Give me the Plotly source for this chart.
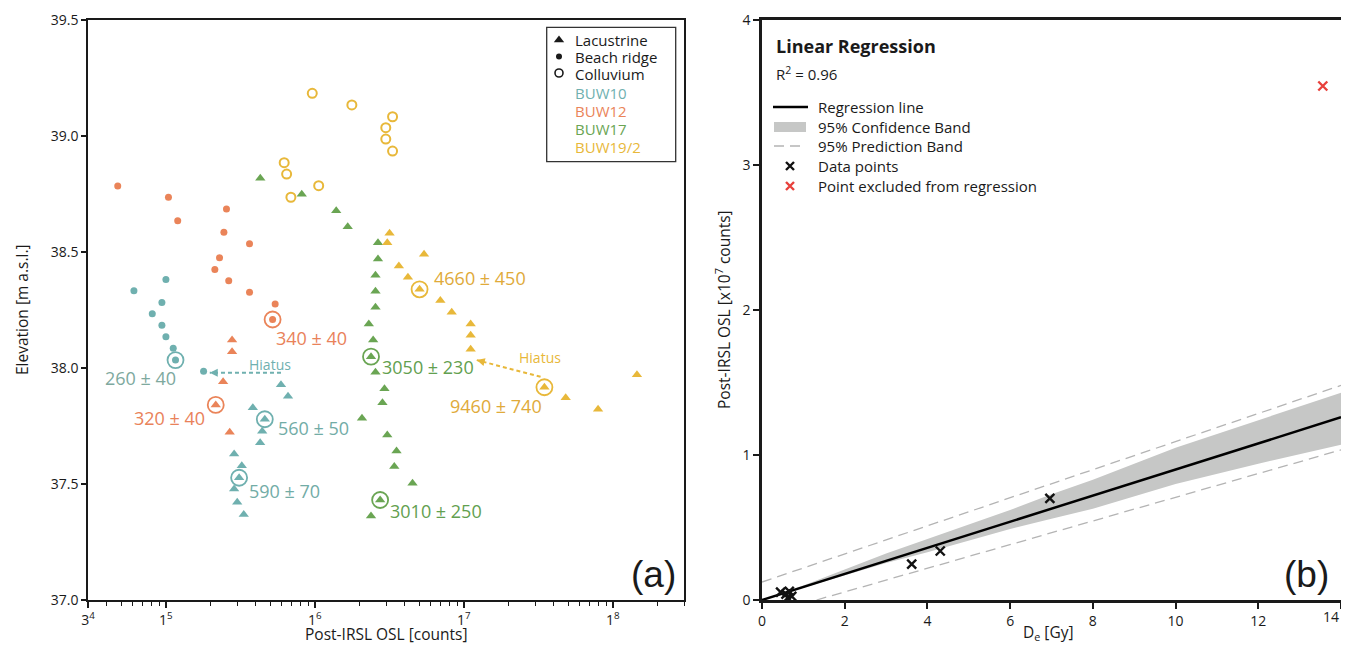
import numpy as np
import plotly.graph_objects as go

# page body has an 8px margin: the figure is drawn 8px in from the window corner
OFF = 8
W, H = 1349 - 2 * OFF, 652 - 2 * OFF

# ---------------- Panel (a) data ----------------
buw10_beach_x = [6.1e4, 1.0e5, 9.4e4, 8.1e4, 9.4e4, 1.0e5, 1.12e5, 1.16e5, 1.79e5]
buw10_beach_y = [38.333, 38.382, 38.282, 38.234, 38.184, 38.135, 38.085, 38.034, 37.986]
buw10_lac_x = [5.92e5, 6.6e5, 3.83e5, 4.61e5, 4.43e5, 4.29e5, 2.87e5, 3.23e5, 3.10e5, 2.87e5, 3.01e5, 3.33e5]
buw10_lac_y = [37.928, 37.878, 37.829, 37.779, 37.727, 37.678, 37.629, 37.579, 37.527, 37.478, 37.421, 37.369]
buw12_beach_x = [4.75e4, 1.04e5, 1.2e5, 2.55e5, 2.45e5, 3.64e5, 2.29e5, 2.13e5, 2.64e5, 3.64e5, 5.41e5, 5.2e5]
buw12_beach_y = [38.784, 38.736, 38.635, 38.685, 38.585, 38.536, 38.475, 38.425, 38.376, 38.326, 38.276, 38.209]
buw12_lac_x = [2.78e5, 2.78e5, 2.42e5, 2.16e5, 2.68e5]
buw12_lac_y = [38.121, 38.070, 37.941, 37.841, 37.723]
buw17_lac_x = [4.3e5, 8.16e5, 1.39e6, 1.66e6, 2.65e6, 2.65e6, 2.55e6, 2.55e6, 2.55e6, 2.3e6, 2.46e6,
               2.38e6, 2.55e6, 2.93e6, 2.84e6, 2.07e6, 3.06e6, 3.53e6, 3.41e6, 4.52e6, 2.74e6, 2.38e6]
buw17_lac_y = [38.818, 38.749, 38.678, 38.609, 38.540, 38.470, 38.400, 38.331, 38.262, 38.190, 38.121,
               38.049, 37.982, 37.911, 37.850, 37.783, 37.711, 37.642, 37.575, 37.503, 37.431, 37.362]
buw19_coll_x = [9.6e5, 1.77e6, 6.22e5, 6.46e5, 1.06e6, 6.9e5, 3.32e6, 2.99e6, 2.99e6, 3.32e6]
buw19_coll_y = [39.184, 39.134, 38.885, 38.836, 38.786, 38.736, 39.083, 39.036, 38.987, 38.935]
buw19_lac_x = [3.17e6, 3.06e6, 5.4e6, 3.66e6, 4.21e6, 5.04e6, 6.95e6, 8.28e6, 1.11e7, 1.11e7, 1.11e7,
               3.47e7, 4.82e7, 7.95e7, 1.45e8]
buw19_lac_y = [38.581, 38.540, 38.490, 38.440, 38.391, 38.339, 38.291, 38.240, 38.190, 38.141, 38.081,
               37.917, 37.872, 37.822, 37.971]

# dated samples (ringed) and their ages
dated_x = [1.16e5, 4.61e5, 3.10e5, 5.2e5, 2.16e5, 2.38e6, 2.74e6, 5.04e6, 3.47e7]
dated_y = [38.034, 37.779, 37.527, 38.209, 37.841, 38.049, 37.431, 38.339, 37.917]
dated_site = ['BUW10', 'BUW10', 'BUW10', 'BUW12', 'BUW12', 'BUW17', 'BUW17', 'BUW19/2', 'BUW19/2']
dated_age = ['260 ± 40', '560 ± 50', '590 ± 70', '340 ± 40', '320 ± 40',
             '3050 ± 230', '3010 ± 250', '4660 ± 450', '9460 ± 740']
label_x = [3.81e4, 5.47e5, 3.49e5, 5.31e5, 5.89e4, 2.74e6, 3.10e6, 6.14e6, 7.83e6]
label_y = [37.957, 37.741, 37.470, 38.129, 37.784, 38.004, 37.384, 38.388, 37.836]

# hiatus arrows (tail -> head)
hiatus10_x = [5.92e5, 1.97e5]
hiatus10_y = [37.980, 37.980]
hiatus19_x = [3.27e7, 1.22e7]
hiatus19_y = [37.962, 38.034]

x_tickvals = [3e4, 1e5, 1e6, 1e7, 1e8]
x_ticktext = ['3<sup>4</sup>', '1<sup>5</sup>', '1<sup>6</sup>', '1<sup>7</sup>', '1<sup>8</sup>']
x_minor = [4e4, 5e4, 6e4, 7e4, 8e4, 9e4] + [m * 10 ** e for e in (5, 6, 7) for m in range(2, 10)] + [2e8, 3e8]

# ---------------- Panel (b) data ----------------
pts_de = [0.45, 0.58, 0.66, 0.72, 0.62, 3.62, 4.31, 6.96]
pts_osl = [0.055, 0.040, 0.060, 0.025, 0.015, 0.248, 0.338, 0.701]
excl_de = [13.56]
excl_osl = [3.545]
reg_de = [0, 14]
reg_osl = [0.0, 1.26]
band_de = [0, 1, 2, 3, 4, 5, 6, 7, 8, 10, 12, 14]
conf_up = [0.0, 0.100, 0.21, 0.32, 0.42, 0.52, 0.62, 0.73, 0.83, 1.05, 1.24, 1.43]
conf_lo = [0.0, 0.085, 0.17, 0.255, 0.33, 0.41, 0.49, 0.56, 0.63, 0.80, 0.94, 1.07]
pred_up_de = [0, 14]
pred_up = [0.124, 1.48]
pred_lo_de = [1.32, 14]
pred_lo = [0.0, 1.035]
b_xticks = [0, 2, 4, 6, 8, 10, 12, 14]

# ---------------- styles ----------------
FONT = 'Open Sans'
C = {'BUW10': '#6fb0af', 'BUW12': '#ea8459', 'BUW17': '#6aa553', 'BUW19/2': '#e8b83a'}
LABEL_C = {'BUW10': '#72aca6', 'BUW12': '#e9825a', 'BUW17': '#62a04f', 'BUW19/2': '#e0aa3a'}
DARK = '#1a1a1a'

# window-pixel -> paper helpers
def px2x(px):
    return (px - OFF) / W

def py2y(py):
    return 1 - (py - OFF) / H

fig = go.Figure()

def add(x, y, sym, color, size, xa='x', ya='y', lw=0, lc=None):
    fig.add_trace(go.Scatter(
        x=x, y=y, mode='markers', xaxis=xa, yaxis=ya, showlegend=False, hoverinfo='skip',
        marker=dict(symbol=sym, size=size, color=color,
                    line=dict(width=lw, color=lc if lc else color))))

# hiatus dashed lines
fig.add_trace(go.Scatter(x=hiatus10_x, y=hiatus10_y, mode='lines', showlegend=False, hoverinfo='skip',
                         line=dict(color=C['BUW10'], width=2, dash='4px,3px')))
fig.add_trace(go.Scatter(x=hiatus19_x, y=hiatus19_y, mode='lines', showlegend=False, hoverinfo='skip',
                         line=dict(color=C['BUW19/2'], width=2, dash='4px,3px')))

add(buw10_beach_x, buw10_beach_y, 'circle', C['BUW10'], 7)
add(buw12_beach_x, buw12_beach_y, 'circle', C['BUW12'], 7)
add(buw10_lac_x, buw10_lac_y, 'triangle-up', C['BUW10'], 9)
add(buw12_lac_x, buw12_lac_y, 'triangle-up', C['BUW12'], 9)
add(buw17_lac_x, buw17_lac_y, 'triangle-up', C['BUW17'], 9)
add(buw19_lac_x, buw19_lac_y, 'triangle-up', C['BUW19/2'], 9)
add(buw19_coll_x, buw19_coll_y, 'circle-open', C['BUW19/2'], 9, lw=2)
# rings around dated samples
fig.add_trace(go.Scatter(x=dated_x, y=dated_y, mode='markers', showlegend=False, hoverinfo='skip',
                         marker=dict(symbol='circle-open', size=16,
                                     color=[C[s] for s in dated_site],
                                     line=dict(width=1.8, color=[C[s] for s in dated_site]))))

# ---------------- panel (b) traces ----------------
fig.add_trace(go.Scatter(x=band_de, y=conf_up, mode='lines', xaxis='x2', yaxis='y2',
                         line=dict(width=0, color='#c6c7c6'), showlegend=False, hoverinfo='skip'))
fig.add_trace(go.Scatter(x=band_de, y=conf_lo, mode='lines', xaxis='x2', yaxis='y2', fill='tonexty',
                         fillcolor='#c6c7c6', line=dict(width=0, color='#c6c7c6'),
                         showlegend=False, hoverinfo='skip'))
for xd, yd in ((pred_up_de, pred_up), (pred_lo_de, pred_lo)):
    fig.add_trace(go.Scatter(x=xd, y=yd, mode='lines', xaxis='x2', yaxis='y2', showlegend=False,
                             line=dict(color='#b4b4b4', width=1.3, dash='10px,6px'), hoverinfo='skip'))
fig.add_trace(go.Scatter(x=reg_de, y=reg_osl, mode='lines', xaxis='x2', yaxis='y2', showlegend=False,
                         line=dict(color='#000000', width=2.5), hoverinfo='skip'))
add(pts_de, pts_osl, 'x-thin', '#111111', 9, xa='x2', ya='y2', lw=2.4)
add(excl_de, excl_osl, 'x-thin', '#e8413c', 9, xa='x2', ya='y2', lw=2.4)

# ---------------- legend marker samples (overlay axes) ----------------
AX0, AX1 = 88, 684
BX0, BX1 = 762, 1341
Y0, Y1 = 20, 600

def fx(px, a0, a1):
    return (px - a0) / (a1 - a0)

def fy(py):
    return (Y1 - py) / (Y1 - Y0)

add([fx(559, AX0, AX1)], [fy(40)], 'triangle-up', DARK, 9, xa='x3', ya='y3')
add([fx(559, AX0, AX1)], [fy(56.5)], 'circle', DARK, 6, xa='x3', ya='y3')
add([fx(559, AX0, AX1)], [fy(73)], 'circle-open', DARK, 8, xa='x3', ya='y3', lw=1.6)
add([fx(790, BX0, BX1)], [fy(166)], 'x-thin', '#111111', 8, xa='x4', ya='y4', lw=2.4)
add([fx(790, BX0, BX1)], [fy(186)], 'x-thin', '#e8413c', 8, xa='x4', ya='y4', lw=2.4)

# ---------------- annotations ----------------
ann = []
def pa(text, px, py, size=15, color=DARK, xanchor='left', angle=0, family=FONT, yanchor='middle'):
    ann.append(dict(text=text, x=px2x(px), y=py2y(py), xref='paper', yref='paper',
                    xanchor=xanchor, yanchor=yanchor, showarrow=False, textangle=angle,
                    font=dict(family=family, size=size, color=color)))

for t, lx, ly, s in zip(dated_age, label_x, label_y, dated_site):
    col = LABEL_C[s]
    if t == '260 ± 40':
        col = '#7ea99e'
    ann.append(dict(text=t, x=np.log10(lx), y=ly, xref='x', yref='y', xanchor='left', yanchor='middle',
                    showarrow=False, font=dict(family=FONT, size=18, color=col)))
ann.append(dict(text='Hiatus', x=np.log10(3.49e5), y=38.017, xref='x', yref='y', xanchor='left',
                yanchor='middle', showarrow=False, font=dict(family=FONT, size=14, color=C['BUW10'])))
ann.append(dict(text='Hiatus', x=np.log10(2.28e7), y=38.047, xref='x', yref='y', xanchor='left',
                yanchor='middle', showarrow=False, font=dict(family=FONT, size=14, color=C['BUW19/2'])))
# arrow heads
ann.append(dict(text='', x=np.log10(hiatus10_x[1]), y=hiatus10_y[1], xref='x', yref='y', showarrow=True,
                ax=9, ay=0, arrowhead=2, arrowsize=1, arrowwidth=1.6, arrowcolor=C['BUW10']))
ann.append(dict(text='', x=np.log10(hiatus19_x[1]), y=hiatus19_y[1], xref='x', yref='y', showarrow=True,
                ax=8.7, ay=2.3, arrowhead=2, arrowsize=1, arrowwidth=1.6, arrowcolor=C['BUW19/2']))

# last x tick label of panel (b) sits at the page edge: right-align it so it stays visible
ann.append(dict(text=str(b_xticks[-1]), x=b_xticks[-1], y=0, xref='x2', yref='paper',
                yanchor='middle', xanchor='right', showarrow=False,
                yshift=0, font=dict(family=FONT, size=14, color=DARK)))
ann[-1]['y'] = py2y(616)
ann[-1]['yref'] = 'paper'

# left legend
pa('Lacustrine', 573, 40.5)
pa('Beach ridge', 573, 57)
pa('Colluvium', 573, 73.5)
pa('BUW10', 573, 93, color=C['BUW10'])
pa('BUW12', 573, 111, color=C['BUW12'])
pa('BUW17', 573, 129, color=C['BUW17'])
pa('BUW19/2', 573, 147, color=C['BUW19/2'])

# right legend
pa('<b>Linear Regression</b>', 774, 46, size=18)
pa('R<sup>2</sup> = 0.96', 774, 73, size=15)
pa('Regression line', 816, 107)
pa('95% Confidence Band', 816, 127)
pa('95% Prediction Band', 816, 146)
pa('Data points', 816, 166)
pa('Point excluded from regression', 816, 186)

# panel letters
pa('(a)', 678, 574, size=37, xanchor='right', family='Liberation Sans')
pa('(b)', 1331, 574, size=37, xanchor='right', family='Liberation Sans')

# axis titles
pa('Post-IRSL OSL [counts]', 386, 634, size=15.5, xanchor='center')
pa('D<sub>e</sub> [Gy]', 1048, 632, size=15.5, xanchor='center')
pa('Elevation [m a.s.l.]', 22, 310, size=15.5, xanchor='center', angle=-90)
pa('Post-IRSL OSL [x10<sup>7</sup> counts]', 723, 310, size=15.5, xanchor='center', angle=-90)

shapes = [
    dict(type='rect', xref='paper', yref='paper', x0=px2x(546.7), x1=px2x(675.7),
         y0=py2y(161.7), y1=py2y(27.3), line=dict(color='#333333', width=1.3)),
    dict(type='line', xref='paper', yref='paper', x0=px2x(773), x1=px2x(808), y0=py2y(107), y1=py2y(107),
         line=dict(color='#000000', width=2.5)),
    dict(type='rect', xref='paper', yref='paper', x0=px2x(774), x1=px2x(806), y0=py2y(132), y1=py2y(122),
         line=dict(width=0), fillcolor='#c6c7c6'),
    dict(type='line', xref='paper', yref='paper', x0=px2x(774), x1=px2x(805), y0=py2y(146), y1=py2y(146),
         line=dict(color='#b4b4b4', width=1.3, dash='10px,6px')),
]

dom_y = [py2y(Y1), py2y(Y0)]
dom_a = [px2x(AX0), px2x(AX1)]
dom_b = [px2x(BX0), px2x(BX1)]
tickfont = dict(family=FONT, size=14, color=DARK)

fig.update_layout(
    width=W, height=H, margin=dict(l=0, r=0, t=0, b=0, autoexpand=False),
    paper_bgcolor='white', plot_bgcolor='rgba(0,0,0,0)',
    showlegend=False, annotations=ann, shapes=shapes,
    xaxis=dict(type='log', domain=dom_a, range=[np.log10(3e4), np.log10(3e8)],
               tickmode='array', tickvals=x_tickvals, ticktext=x_ticktext, ticks='outside', ticklen=6,
               tickwidth=1.5, tickcolor=DARK, tickfont=tickfont, automargin=False,
               minor=dict(tickmode='array', tickvals=x_minor, ticks='outside', ticklen=4, tickwidth=1.2,
                          tickcolor=DARK),
               showline=True, mirror=True, linewidth=1.5, linecolor=DARK, showgrid=False, zeroline=False),
    yaxis=dict(domain=dom_y, range=[37.0, 39.5], tickmode='array', tickvals=[37.0, 37.5, 38.0, 38.5, 39.0, 39.5],
               tickformat='.1f', ticks='outside', ticklen=5, tickwidth=1.5, tickcolor=DARK, tickfont=tickfont,
               automargin=False,
               showline=True, mirror=True, linewidth=1.5, linecolor=DARK, showgrid=False, zeroline=False),
    xaxis2=dict(domain=dom_b, range=[0, 14], anchor='y2', tickmode='array',
                tickvals=b_xticks, ticktext=[str(v) for v in b_xticks[:-1]] + [''],
                ticks='outside', ticklen=6, tickwidth=2, tickcolor=DARK,
                tickfont=tickfont, showline=True, mirror=True, linewidth=2.5, linecolor=DARK,
                showgrid=False, zeroline=False, automargin=False),
    yaxis2=dict(domain=dom_y, range=[0, 4], anchor='x2', tickmode='array', tickvals=[0, 1, 2, 3, 4],
                ticks='outside', ticklen=6, tickwidth=2, tickcolor=DARK, tickfont=tickfont,
                showline=True, mirror=True, linewidth=2.5, linecolor=DARK, showgrid=False, zeroline=False,
                automargin=False),
    xaxis3=dict(domain=dom_a, range=[0, 1], anchor='y3', visible=False),
    yaxis3=dict(domain=dom_y, range=[0, 1], anchor='x3', visible=False),
    xaxis4=dict(domain=dom_b, range=[0, 1], anchor='y4', visible=False),
    yaxis4=dict(domain=dom_y, range=[0, 1], anchor='x4', visible=False),
)

fig.write_html('out.html')
